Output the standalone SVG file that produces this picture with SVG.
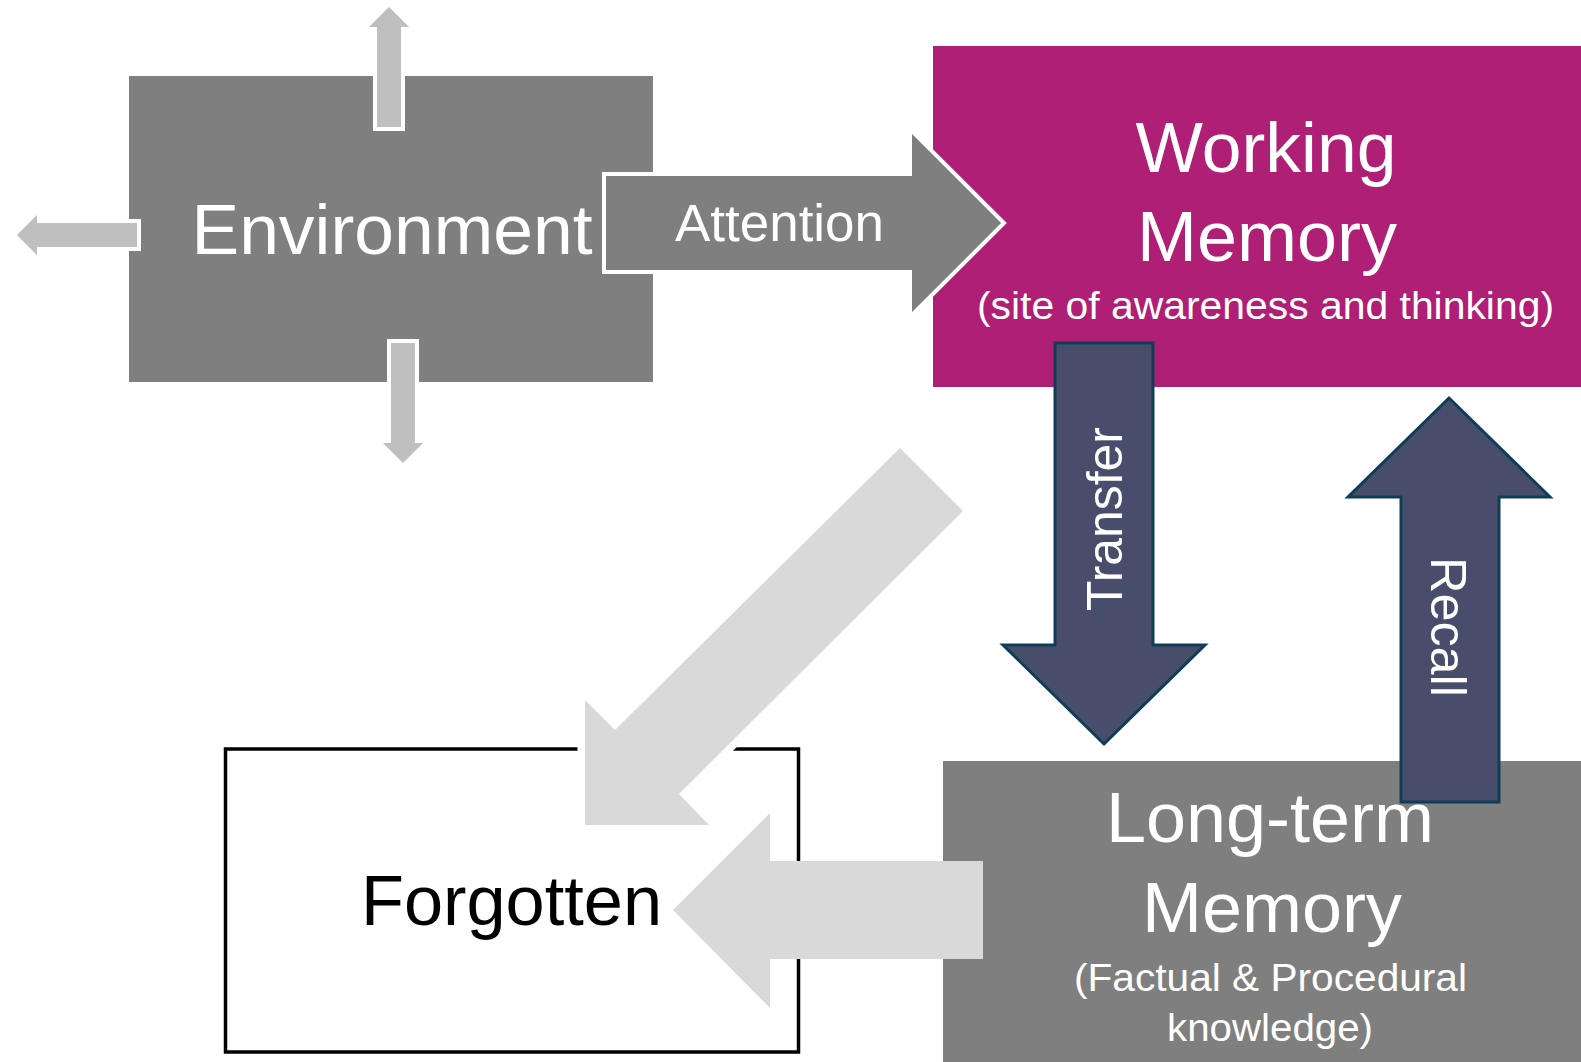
<svg xmlns="http://www.w3.org/2000/svg" width="1581" height="1062" viewBox="0 0 1581 1062">
<style>
  .lbl { font-family: "Liberation Sans", Arial, sans-serif; fill: #ffffff; text-anchor: middle; }
  .dark { fill: #000000; }
  .big { font-size: 70px; }
  .sub { font-size: 38px; }
  .arrowlbl { font-size: 50px; }
  .small-arrow { fill: #bfbfbf; stroke: #ffffff; stroke-width: 4; stroke-linejoin: miter; }
  .blue-arrow { fill: #474d6a; stroke: #0f3d58; stroke-width: 3; stroke-linejoin: miter; }
  .pale-arrow { fill: #d9d9d9; }
</style>
<rect width="1581" height="1062" fill="#ffffff"/>

<g id="node-environment">
  <rect x="129" y="76" width="524" height="306" fill="#7f7f7f"/>
  <text class="lbl big" x="392" y="254" textLength="401" lengthAdjust="spacingAndGlyphs">Environment</text>
</g>

<g id="node-working-memory">
  <rect x="933" y="46" width="648" height="341" fill="#af1f75"/>
  <text class="lbl big" x="1266" y="172" textLength="261" lengthAdjust="spacingAndGlyphs">Working</text>
  <text class="lbl big" x="1267" y="261" textLength="260" lengthAdjust="spacingAndGlyphs">Memory</text>
  <text class="lbl sub" x="1265.5" y="319" textLength="577" lengthAdjust="spacingAndGlyphs">(site of awareness and thinking)</text>
</g>

<g id="node-long-term-memory">
  <rect x="943" y="761" width="638" height="301" fill="#7f7f7f"/>
  <text class="lbl big" x="1270" y="842" textLength="328" lengthAdjust="spacingAndGlyphs">Long-term</text>
  <text class="lbl big" x="1272" y="932" textLength="260" lengthAdjust="spacingAndGlyphs">Memory</text>
  <text class="lbl sub" x="1270.5" y="991" textLength="393" lengthAdjust="spacingAndGlyphs">(Factual &amp; Procedural</text>
  <text class="lbl sub" x="1270" y="1041" textLength="206" lengthAdjust="spacingAndGlyphs">knowledge)</text>
</g>

<g id="node-forgotten">
  <rect x="225.5" y="749" width="573" height="303" fill="#ffffff" stroke="#000000" stroke-width="3.5"/>
  <text class="lbl dark big" x="511.5" y="925" textLength="301" lengthAdjust="spacingAndGlyphs">Forgotten</text>
</g>

<g id="connectors">
  <!-- small outward arrows from Environment -->
  <polygon class="small-arrow" points="389,4 414,29 403,29 403,129 375,129 375,29 364,29"/>
  <polygon class="small-arrow" points="14,235 39,210 39,221 139,221 139,249 39,249 39,260"/>
  <polygon class="small-arrow" points="389,341 417,341 417,441 428,441 403,466 378,441 389,441"/>

  <!-- Attention -->
  <g id="arrow-attention">
    <polygon points="604,174 910,174 910,129 1004,223 910,317 910,272 604,272" fill="#7f7f7f" stroke="#ffffff" stroke-width="4" stroke-linejoin="miter"/>
    <text class="lbl" x="779.5" y="241" font-size="51" textLength="209" lengthAdjust="spacingAndGlyphs">Attention</text>
  </g>

  <!-- Transfer -->
  <g id="arrow-transfer">
    <polygon class="blue-arrow" points="1055,343 1153,343 1153,645 1205,645 1104,744 1003,645 1055,645"/>
    <text class="lbl arrowlbl" transform="translate(1122,519) rotate(-90)" x="0" y="0" textLength="184" lengthAdjust="spacingAndGlyphs">Transfer</text>
  </g>

  <!-- Recall -->
  <g id="arrow-recall">
    <polygon class="blue-arrow" points="1449,398 1550,497 1499,497 1499,802 1401,802 1401,497 1348,497"/>
    <text class="lbl arrowlbl" transform="translate(1431,627) rotate(90)" x="0" y="0" textLength="140" lengthAdjust="spacingAndGlyphs">Recall</text>
  </g>

  <!-- Working memory to Forgotten (diagonal) -->
  <g id="arrow-wm-forgotten">
    <polygon points="900,448 963,511 679,794 709,825 585,825 585,700 615,730" fill="#ffffff" stroke="#ffffff" stroke-width="15" stroke-linejoin="miter"/>
    <polygon class="pale-arrow" points="900,448 963,511 679,794 709,825 585,825 585,700 615,730"/>
  </g>

  <!-- Long-term memory to Forgotten -->
  <polygon id="arrow-ltm-forgotten" class="pale-arrow" points="983,861 983,959 770,959 770,1008 673,910 770,813 770,861"/>
</g>
</svg>
